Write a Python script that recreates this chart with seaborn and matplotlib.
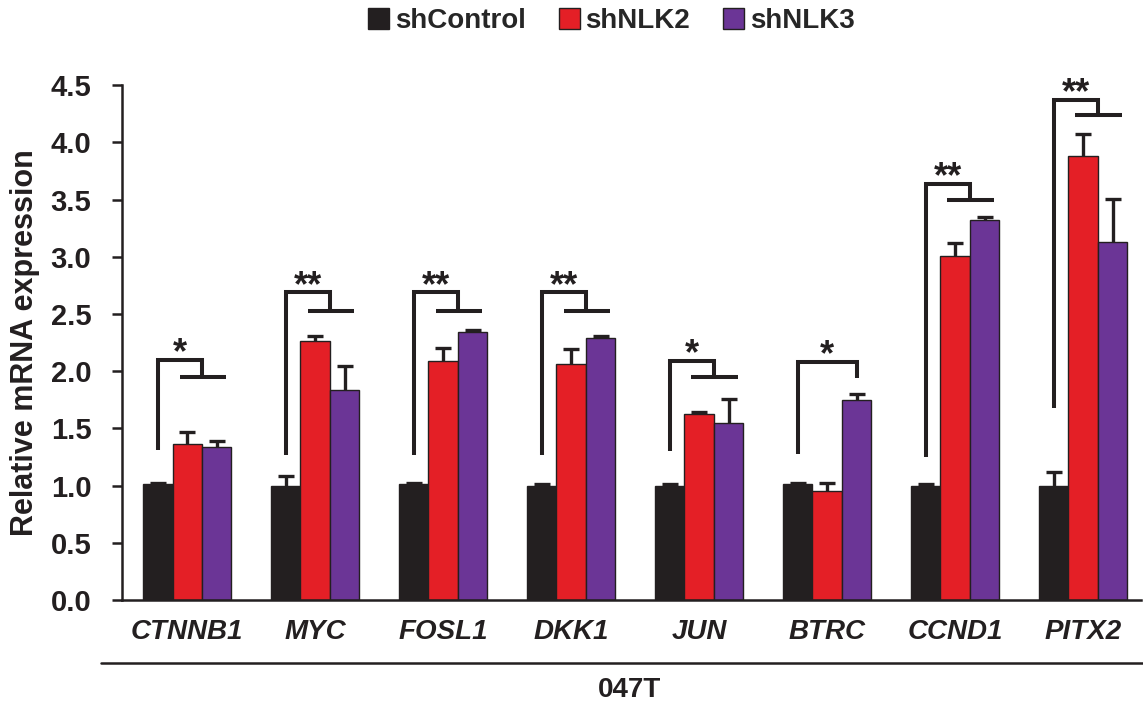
import numpy as np
import pandas as pd
import matplotlib
matplotlib.use("Agg")
import matplotlib.pyplot as plt
import seaborn as sns
from matplotlib.lines import Line2D

# data
genes = ["CTNNB1", "MYC", "FOSL1", "DKK1", "JUN", "BTRC", "CCND1", "PITX2"]
groups = ["shControl", "shNLK2", "shNLK3"]

control_mean = [1.01, 1.00, 1.01, 1.00, 1.00, 1.01, 1.00, 1.00]
control_err = [0.01, 0.08, 0.01, 0.01, 0.01, 0.01, 0.01, 0.12]
nlk2_mean = [1.36, 2.26, 2.09, 2.06, 1.63, 0.95, 3.01, 3.88]
nlk2_err = [0.11, 0.05, 0.11, 0.13, 0.01, 0.07, 0.11, 0.19]
nlk3_mean = [1.34, 1.84, 2.34, 2.29, 1.55, 1.75, 3.32, 3.13]
nlk3_err = [0.05, 0.21, 0.02, 0.02, 0.21, 0.05, 0.03, 0.38]

# significance brackets (leg bottom, top line, end of drop) and stars
bracket_low = [1.31, 1.27, 1.27, 1.27, 1.30, 1.28, 1.25, 1.68]
bracket_high = [2.10, 2.69, 2.69, 2.69, 2.09, 2.08, 3.64, 4.37]
bracket_drop = [1.95, 2.53, 2.53, 2.53, 1.95, 1.94, 3.50, 4.24]
stars = ["*", "**", "**", "**", "*", "*", "**", "**"]
vs_both = [True, True, True, True, True, False, True, True]

cell_line = "047T"

colors = ["#231f20", "#e41f26", "#6b3596"]
ink = "#231f20"

means = [control_mean, nlk2_mean, nlk3_mean]
errs = [control_err, nlk2_err, nlk3_err]

df = pd.DataFrame({
    "gene": genes * 3,
    "group": np.repeat(groups, len(genes)),
    "value": control_mean + nlk2_mean + nlk3_mean,
})

sns.set_style("ticks")
plt.rcParams["font.family"] = ["Liberation Sans", "DejaVu Sans"]

fig = plt.figure(figsize=(11.43, 7.05), dpi=100)
ax = fig.add_axes([0.1067, 0.149, 0.8913, 0.730])

sns.barplot(data=df, x="gene", y="value", hue="group", order=genes,
            hue_order=groups, palette=colors, width=0.69, errorbar=None,
            edgecolor=ink, linewidth=1.0, saturation=1, ax=ax)

# upper-only error bars
for container, m, e in zip(ax.containers, means, errs):
    xs = [p.get_x() + p.get_width() / 2 for p in container]
    _, caps, _ = ax.errorbar(xs, m, yerr=[np.zeros(len(e)), e], fmt="none",
                             ecolor=ink, elinewidth=2.4, capsize=6,
                             capthick=2.4, zorder=3)
    caps[0].set_visible(False)

# brackets
bw = 0.23
for i in range(len(genes)):
    x_left = i - bw
    x_drop = i + bw / 2 if vs_both[i] else i + bw
    ax.plot([x_left, x_left, x_drop, x_drop],
            [bracket_low[i], bracket_high[i], bracket_high[i], bracket_drop[i]],
            color=ink, lw=2.9, solid_joinstyle="miter", solid_capstyle="butt",
            clip_on=False)
    if vs_both[i]:
        ax.plot([i - 0.06, i + 0.30], [bracket_drop[i]] * 2, color=ink, lw=2.9,
                solid_capstyle="butt", clip_on=False)
    ax.annotate(stars[i], ((x_left + x_drop) / 2, bracket_high[i]),
                xytext=(0, -2.5), textcoords="offset points", ha="center",
                va="baseline", fontsize=26, fontweight="bold", color=ink,
                annotation_clip=False)

ax.set_ylim(0, 4.5)
ax.set_xlim(-0.51, 7.45)
ax.set_yticks(np.arange(0, 4.51, 0.5))
ax.set_yticklabels([f"{v:.1f}" for v in np.arange(0, 4.51, 0.5)],
                   fontsize=21, fontweight="bold", color=ink)
ax.set_xticks(range(len(genes)))
ax.set_xticklabels(genes, fontsize=20, fontweight="bold", fontstyle="italic",
                   color=ink)
ax.tick_params(axis="x", length=0, pad=14)
ax.tick_params(axis="y", length=7, width=1.8, color=ink, pad=15)
ax.set_xlabel("")
ax.set_ylabel("Relative mRNA expression", fontsize=22, fontweight="bold",
              color=ink, labelpad=8)
sns.despine(ax=ax)
for side in ["left", "bottom"]:
    ax.spines[side].set_linewidth(1.8)
    ax.spines[side].set_color(ink)

# legend at top
handles, labels = ax.get_legend_handles_labels()
ax.get_legend().remove()
fig.legend(handles, labels, loc="center", bbox_to_anchor=(0.535, 0.970),
           ncol=3, frameon=False, handlelength=0.75, handleheight=0.75,
           handletextpad=0.2, columnspacing=1.2,
           prop={"size": 20, "weight": "bold"})

# cell line label under the genes
fig.add_artist(Line2D([0.088, 1.0], [0.0596, 0.0596], transform=fig.transFigure,
                      color=ink, lw=1.8))
fig.text(0.551, 0.021, cell_line, ha="center", va="center", fontsize=20,
         fontweight="bold", color=ink)

fig.savefig("out.png", dpi=100)
